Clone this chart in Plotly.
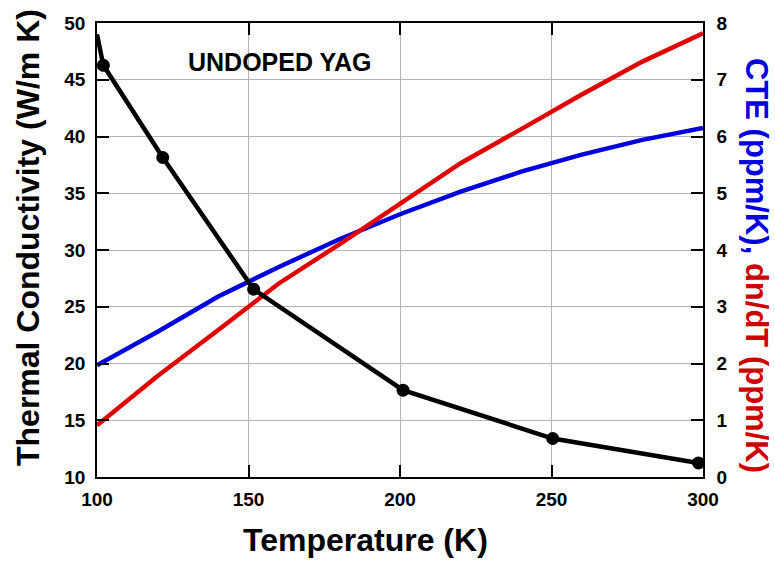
import plotly.graph_objects as go

# Data
temp_k = [100, 102.1, 121.7, 151.7, 201, 250.4, 298.5]
thermal_cond = [49.0, 46.27, 38.15, 26.54, 17.65, 13.39, 11.24]
marker_sizes = [0, 13, 13, 13, 13, 13, 13]

temp_grid = [100, 120, 140, 160, 180, 200, 220, 240, 260, 280, 300]
cte = [1.97, 2.56, 3.18, 3.70, 4.19, 4.63, 5.03, 5.38, 5.68, 5.94, 6.15]
dndt = [0.91, 1.78, 2.59, 3.41, 4.10, 4.82, 5.53, 6.13, 6.74, 7.32, 7.82]

x_ticks = [100, 150, 200, 250, 300]
left_ticks = [10, 15, 20, 25, 30, 35, 40, 45, 50]
right_ticks = [0, 1, 2, 3, 4, 5, 6, 7, 8]

FONT = "Liberation Sans, Arial, Helvetica, sans-serif"
BLUE = "#0000dd"
RED = "#e00000"
RED_TITLE = "#cc0000"

fig = go.Figure()
fig.add_trace(go.Scatter(x=temp_grid, y=cte, mode="lines", yaxis="y",
                         line=dict(color=BLUE, width=4.5), showlegend=False))
fig.add_trace(go.Scatter(x=temp_grid, y=dndt, mode="lines", yaxis="y",
                         line=dict(color=RED, width=4.5), showlegend=False))
fig.add_trace(go.Scatter(x=temp_k, y=thermal_cond, mode="lines+markers", yaxis="y2",
                         line=dict(color="black", width=4.5),
                         marker=dict(color="black", size=marker_sizes, opacity=1,
                                     line=dict(width=0)),
                         showlegend=False))

tickfont = dict(family=FONT, size=19, color="black", weight="bold")

fig.update_layout(
    width=775, height=561,
    margin=dict(l=97, r=72, t=23, b=84),
    paper_bgcolor="white", plot_bgcolor="white",
    xaxis=dict(range=[100, 300], tickvals=x_ticks, ticks="inside", ticklen=12,
               tickcolor="black", tickwidth=1.5, ticklabelstandoff=4, automargin=False,
               showline=True, linecolor="black", linewidth=1.5, mirror="ticks",
               showgrid=True, gridcolor="#b4b4b4", gridwidth=1,
               tickfont=tickfont, zeroline=False),
    yaxis=dict(range=[0, 8], tickvals=right_ticks, side="right", ticks="inside", ticklen=12,
               tickcolor="black", tickwidth=1.5, ticklabelstandoff=8, automargin=False,
               showline=True, linecolor="black", linewidth=1.5,
               showgrid=True, gridcolor="#b4b4b4", gridwidth=1,
               tickfont=tickfont, zeroline=False),
    yaxis2=dict(range=[10, 50], tickvals=left_ticks, side="left", overlaying="y",
                ticks="inside", ticklen=12, tickcolor="black", tickwidth=1.5,
                ticklabelstandoff=6, automargin=False,
                showline=True, linecolor="black", linewidth=1.5,
                showgrid=False, tickfont=tickfont, zeroline=False),
)

fig.add_annotation(x=160.3, y=46.6, xref="x", yref="y2", text="UNDOPED YAG",
                   showarrow=False, font=dict(family=FONT, size=25, color="black", weight="bold"))
# side / bottom titles, positioned in pixels then converted to paper coordinates
fig.add_annotation(x=28, y=238, xref="paper", yref="paper", text="Thermal Conductivity (W/m K)",
                   showarrow=False, textangle=-90, xanchor="center", yanchor="middle",
                   font=dict(family=FONT, size=32, color="black", weight="bold"))
fig.add_annotation(
    x=757, y=265, xref="paper", yref="paper",
    text=(f'<span style="color:{BLUE}">CTE (ppm/K),</span>'
          f'<span style="color:{RED_TITLE}"> dn/dT (ppm/K)</span>'),
    showarrow=False, textangle=90, xanchor="center", yanchor="middle",
    font=dict(family=FONT, size=31, weight="bold"))
fig.add_annotation(x=365, y=540, xref="paper", yref="paper", text="Temperature (K)",
                   showarrow=False, xanchor="center", yanchor="middle",
                   font=dict(family=FONT, size=32, color="black", weight="bold"))

pw, ph = 775 - 97 - 72, 561 - 23 - 84
for ann in fig.layout.annotations[1:]:
    ann.x = (ann.x - 97) / pw
    ann.y = (561 - 84 - ann.y) / ph

fig.write_html("out.html", config={"displayModeBar": False},
               post_script="document.body.style.margin='0px';document.body.style.overflow='hidden';")
